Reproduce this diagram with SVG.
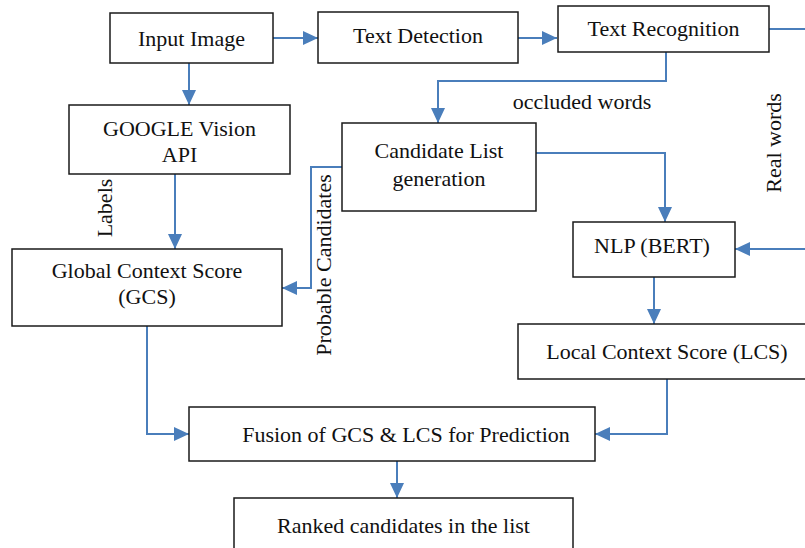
<svg xmlns="http://www.w3.org/2000/svg" width="805" height="548" viewBox="0 0 805 548">
  <style>
    .box { fill: #ffffff; stroke: #1a1a1a; stroke-width: 1.5; }
    .lbl { font-family: 'Liberation Serif', Tinos, 'Times New Roman', 'Nimbus Roman', 'DejaVu Serif', serif; font-size: 22px; fill: #111111; text-anchor: middle; }
    .conn { fill: none; stroke: #4a7ebb; stroke-width: 2; }
  </style>
  <defs>
    <marker id="arrow" markerUnits="userSpaceOnUse" markerWidth="16" markerHeight="14" refX="15" refY="7" orient="auto">
      <path d="M0,0 L15,7 L0,14 Z" fill="#4a7ebb"/>
    </marker>
  </defs>
  <rect width="805" height="548" fill="#ffffff"/>

  <g id="connectors">
    <path class="conn" d="M273,38 H318" marker-end="url(#arrow)"/>
    <path class="conn" d="M518,38 H557" marker-end="url(#arrow)"/>
    <path class="conn" d="M769,29 H805"/>
    <path class="conn" d="M666,52 V81 H438 V123" marker-end="url(#arrow)"/>
    <path class="conn" d="M189,63 V105" marker-end="url(#arrow)"/>
    <path class="conn" d="M175,174 V249" marker-end="url(#arrow)"/>
    <path class="conn" d="M342,167 H311 V288 H282" marker-end="url(#arrow)"/>
    <path class="conn" d="M536,153 H665 V222" marker-end="url(#arrow)"/>
    <path class="conn" d="M805,249 H735" marker-end="url(#arrow)"/>
    <path class="conn" d="M654,277 V324" marker-end="url(#arrow)"/>
    <path class="conn" d="M147,326 V434 H189" marker-end="url(#arrow)"/>
    <path class="conn" d="M667,379 V434 H595" marker-end="url(#arrow)"/>
    <path class="conn" d="M397,461 V498" marker-end="url(#arrow)"/>
    <text class="lbl" x="582" y="109">occluded words</text>
    <text class="lbl" transform="translate(781,143) rotate(-90)">Real words</text>
    <text class="lbl" transform="translate(331,265) rotate(-90)">Probable Candidates</text>
    <text class="lbl" transform="translate(112,208) rotate(-90)">Labels</text>
  </g>

  <g id="input-image">
    <rect class="box" x="110" y="13" width="163" height="50"/>
    <text class="lbl" x="191.5" y="46">Input Image</text>
  </g>
  <g id="text-detection">
    <rect class="box" x="318" y="12" width="200" height="51"/>
    <text class="lbl" x="418" y="43">Text Detection</text>
  </g>
  <g id="text-recognition">
    <rect class="box" x="558" y="6" width="211" height="46"/>
    <text class="lbl" x="663.5" y="36">Text Recognition</text>
  </g>
  <g id="google-vision">
    <rect class="box" x="69" y="105" width="221" height="69"/>
    <text class="lbl" x="179.5" y="136">GOOGLE Vision</text>
    <text class="lbl" x="179.5" y="162">API</text>
  </g>
  <g id="candidate-list">
    <rect class="box" x="342" y="123" width="194" height="88"/>
    <text class="lbl" x="439" y="158">Candidate List</text>
    <text class="lbl" x="439" y="186">generation</text>
  </g>
  <g id="gcs">
    <rect class="box" x="12" y="249" width="270" height="77"/>
    <text class="lbl" x="147" y="278">Global Context Score</text>
    <text class="lbl" x="147" y="304">(GCS)</text>
  </g>
  <g id="nlp-bert">
    <rect class="box" x="573" y="222" width="162" height="55"/>
    <text class="lbl" x="652" y="253">NLP (BERT)</text>
  </g>
  <g id="lcs">
    <rect class="box" x="518" y="324" width="290" height="55"/>
    <text class="lbl" x="667" y="359">Local Context Score (LCS)</text>
  </g>
  <g id="fusion">
    <rect class="box" x="189" y="407" width="406" height="54"/>
    <text class="lbl" x="406" y="442">Fusion of GCS &amp; LCS for Prediction</text>
  </g>
  <g id="ranked">
    <rect class="box" x="234" y="498" width="339" height="60"/>
    <text class="lbl" x="403.5" y="533">Ranked candidates in the list</text>
  </g>
</svg>
